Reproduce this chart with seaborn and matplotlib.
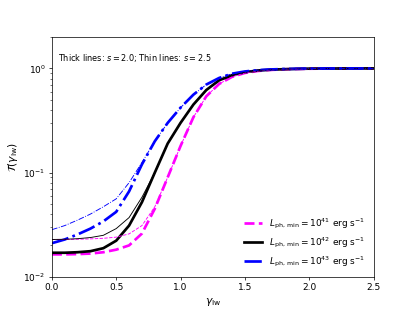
import numpy as np
import pandas as pd
import matplotlib
matplotlib.use('Agg')
import matplotlib.pyplot as plt
import seaborn as sns

# gamma_lw grid
gamma = [0.0, 0.1, 0.2, 0.3, 0.4, 0.5, 0.6, 0.7, 0.8, 0.9, 1.0, 1.1, 1.2,
         1.3, 1.4, 1.5, 1.6, 1.7, 1.8, 1.9, 2.0, 2.1, 2.2, 2.3, 2.4, 2.5]

# thick lines, s = 2.0
t41_s20 = [0.0164, 0.0164, 0.0165, 0.0167, 0.0172, 0.0182, 0.0200, 0.026, 0.045,
           0.09, 0.18, 0.34, 0.54, 0.71, 0.83, 0.905, 0.945, 0.968, 0.98, 0.988,
           0.993, 0.996, 0.998, 0.999, 1.0, 1.0]
t42_s20 = [0.0170, 0.0170, 0.0172, 0.0176, 0.0188, 0.0222, 0.031, 0.052, 0.100,
           0.19, 0.30, 0.45, 0.62, 0.77, 0.86, 0.92, 0.955, 0.972, 0.983, 0.99,
           0.995, 0.997, 0.998, 0.999, 1.0, 1.0]
t43_s20 = [0.0210, 0.0228, 0.0255, 0.029, 0.034, 0.042, 0.066, 0.12, 0.20,
           0.30, 0.42, 0.56, 0.70, 0.81, 0.89, 0.935, 0.962, 0.978, 0.987, 0.992,
           0.996, 0.998, 0.999, 1.0, 1.0, 1.0]

# thin lines, s = 2.5
t41_s25 = [0.0228, 0.0228, 0.0229, 0.0231, 0.0234, 0.024, 0.0258, 0.031, 0.047,
           0.09, 0.18, 0.34, 0.54, 0.71, 0.83, 0.905, 0.945, 0.968, 0.98, 0.988,
           0.993, 0.996, 0.998, 0.999, 1.0, 1.0]
t42_s25 = [0.0228, 0.0229, 0.0232, 0.0238, 0.025, 0.029, 0.037, 0.058, 0.100,
           0.19, 0.30, 0.45, 0.62, 0.77, 0.86, 0.92, 0.955, 0.972, 0.983, 0.99,
           0.995, 0.997, 0.998, 0.999, 1.0, 1.0]
t43_s25 = [0.0283, 0.031, 0.035, 0.040, 0.047, 0.056, 0.080, 0.125, 0.20,
           0.30, 0.42, 0.56, 0.70, 0.81, 0.89, 0.935, 0.962, 0.978, 0.987, 0.992,
           0.996, 0.998, 0.999, 1.0, 1.0, 1.0]

labels = [r'$L_{\rm ph,\,min}=10^{41}$ erg s$^{-1}$',
          r'$L_{\rm ph,\,min}=10^{42}$ erg s$^{-1}$',
          r'$L_{\rm ph,\,min}=10^{43}$ erg s$^{-1}$']
colors = ['magenta', 'black', 'blue']
dashes = ['--', '-', '-.']

fig, ax = plt.subplots(figsize=(6.4, 4.8), dpi=64.85)

thick = [t41_s20, t42_s20, t43_s20]
thin = [t41_s25, t42_s25, t43_s25]
for vals, lab, c, ls in zip(thick, labels, colors, dashes):
    sns.lineplot(x=gamma, y=vals, ax=ax, color=c, linestyle=ls, lw=3, label=lab)
for vals, c, ls in zip(thin, colors, dashes):
    sns.lineplot(x=gamma, y=vals, ax=ax, color=c, linestyle=ls, lw=1)

ax.set_yscale('log')
ax.set_xlim(0, 2.5)
ax.set_ylim(0.01, 2)
ax.set_xlabel(r'$\gamma_{\rm lw}$', fontsize=12)
ax.set_ylabel(r'$\mathcal{T}(\gamma_{\rm lw})$', fontsize=12)
ax.text(0.02, 0.915, r'Thick lines: $s=2.0$; Thin lines: $s=2.5$',
        transform=ax.transAxes, fontsize=9, va='center')
ax.legend(loc='lower right', frameon=False, fontsize=10)

plt.savefig('out.png', dpi=64.85)
plt.close()
